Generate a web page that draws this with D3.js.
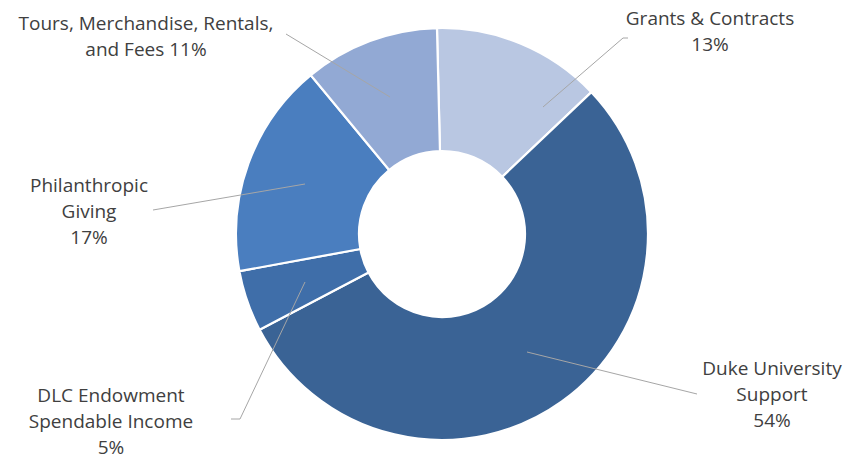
<!DOCTYPE html>
<html>
<head>
<meta charset="utf-8">
<script src="https://cdn.jsdelivr.net/npm/d3@7"></script>
<style>
  html, body { margin: 0; padding: 0; background: #ffffff; }
  svg text { font-family: "Open Sans", "Noto Sans", sans-serif; }
</style>
</head>
<body>
<svg id="chart" width="846" height="460"></svg>
<script>
// Data (in chart order, clockwise from top)
const categories = ["Grants & Contracts", "Duke University Support", "DLC Endowment Spendable Income", "Philanthropic Giving", "Tours, Merchandise, Rentals, and Fees"];
const values = [13.3, 54.4, 4.8, 16.9, 10.6];
const labelLines = [
  ["Grants & Contracts", "13%"],
  ["Duke University", "Support", "54%"],
  ["DLC Endowment", "Spendable Income", "5%"],
  ["Philanthropic", "Giving", "17%"],
  ["Tours, Merchandise, Rentals,", "and Fees 11%"]
];
const colors = ["#b9c7e2", "#3a6395", "#3f6ea9", "#4a7ebf", "#92a9d4"];

// Layout
const cx = 442, cy = 234, rOuter = 206, rInner = 83;
const startOffset = -1.4 * Math.PI / 180;

// Label anchor positions (text center x, first baseline y)
const labelPos = [
  {x: 710, y: 25},
  {x: 772, y: 375},
  {x: 111, y: 402},
  {x: 89, y: 192},
  {x: 146, y: 30}
];
// Leader line points
const leaders = [
  [[543, 107], [623, 38], [628, 38]],
  [[527, 352], [697, 394]],
  [[305, 282], [240, 419], [231, 419]],
  [[305, 184], [153, 210]],
  [[390, 97], [286, 34]]
];

const svg = d3.select("#chart");
const g = svg.append("g").attr("transform", `translate(${cx},${cy})`);

const pie = d3.pie().sort(null).value(d => d)
  .startAngle(startOffset).endAngle(2 * Math.PI + startOffset);
const arc = d3.arc().innerRadius(rInner).outerRadius(rOuter);
const arcs = pie(values);

g.selectAll("path.slice")
  .data(arcs)
  .enter().append("path")
  .attr("class", "slice")
  .attr("d", arc)
  .attr("fill", (d, i) => colors[i])
  .attr("stroke", "#ffffff")
  .attr("stroke-width", 2.2);

// Leader lines
const line = d3.line();
svg.selectAll("path.leader")
  .data(leaders)
  .enter().append("path")
  .attr("class", "leader")
  .attr("d", d => line(d))
  .attr("fill", "none")
  .attr("stroke", "#a6a6a6")
  .attr("stroke-width", 1);

// Labels
const lineH = 26;
labelLines.forEach((lines, i) => {
  const t = svg.append("text")
    .attr("text-anchor", "middle")
    .attr("font-size", 19)
    .attr("fill", "#404040");
  lines.forEach((s, j) => {
    t.append("tspan")
      .attr("x", labelPos[i].x)
      .attr("y", labelPos[i].y + j * lineH)
      .text(s);
  });
});
</script>
</body>
</html>
